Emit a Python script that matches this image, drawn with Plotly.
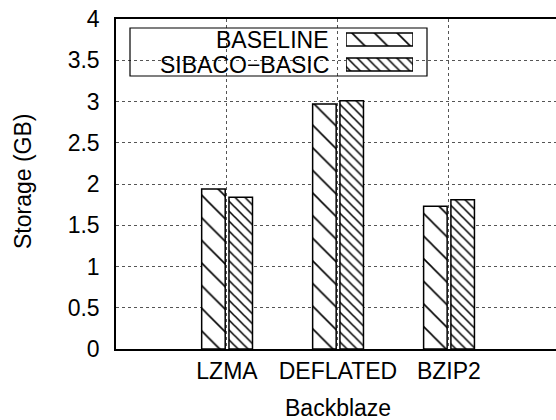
import plotly.graph_objects as go

categories = ["LZMA", "DEFLATED", "BZIP2"]
baseline = [1.94, 2.97, 1.73]
sibaco = [1.84, 3.01, 1.81]
series_names = ["BASELINE", "SIBACO\u2212BASIC"]
y_ticks = [0, 0.5, 1, 1.5, 2, 2.5, 3, 3.5, 4]
y_tick_text = ["0", "0.5", "1", "1.5", "2", "2.5", "3", "3.5", "4"]

FONT = "Liberation Sans, Arial, Helvetica, sans-serif"
W, H = 556, 420
L, R, T, B = 116, 0, 19, 71
PW, PH = W - L - R, H - T - B


def px(x):
    return (x - L) / PW


def py(y):
    return (H - B - y) / PH


pat_base = dict(shape="\\", size=16, solidity=0.1, fgcolor="black", bgcolor="white", fgopacity=1)
pat_sib = dict(shape="\\", size=7, solidity=0.22, fgcolor="black", bgcolor="white", fgopacity=1)
line_style = dict(color="black", width=1.5)

fig = go.Figure()
fig.add_trace(go.Bar(x=categories, y=baseline, name=series_names[0], width=0.212, offset=-0.228,
                     marker=dict(color="white", pattern=pat_base, line=line_style), showlegend=False))
fig.add_trace(go.Bar(x=categories, y=sibaco, name=series_names[1], width=0.212, offset=0.018,
                     marker=dict(color="white", pattern=pat_sib, line=line_style), showlegend=False))

# legend key swatches on a small inset axis
fig.add_trace(go.Bar(x=[1], y=[series_names[0]], orientation="h", width=0.52, xaxis="x2", yaxis="y2",
                     marker=dict(color="white", pattern=pat_base, line=line_style), showlegend=False))
fig.add_trace(go.Bar(x=[1], y=[series_names[1]], orientation="h", width=0.52, xaxis="x2", yaxis="y2",
                     marker=dict(color="white", pattern=pat_sib, line=line_style), showlegend=False))

grid = dict(showgrid=True, gridcolor="#555", griddash="dot", gridwidth=1)

bx0, bx1, by0, by1 = px(130), px(427), py(76), py(28)
box = dict(type="rect", xref="paper", yref="paper", x0=bx0, x1=bx1, y0=by0, y1=by1)

fig.update_layout(
    width=W, height=H,
    margin=dict(l=L, r=R, t=T, b=B),
    paper_bgcolor="white", plot_bgcolor="white",
    font=dict(family=FONT, size=23, color="black"),
    barmode="overlay",
    xaxis=dict(type="category", range=[-1, 2.965], showline=True, linecolor="black", linewidth=1.5,
               mirror=True, ticks="", ticklabelstandoff=1, zeroline=False, **grid),
    yaxis=dict(range=[0, 4], tickvals=y_ticks, ticktext=y_tick_text, showline=True, linecolor="black",
               linewidth=1.5, mirror=False, ticks="", ticklabelstandoff=10, zeroline=False, **grid),
    xaxis2=dict(domain=[px(346), px(413)], anchor="y2", range=[0, 1], visible=False),
    yaxis2=dict(domain=[py(77), py(27)], anchor="x2", type="category",
                categoryorder="array", categoryarray=[series_names[1], series_names[0]], visible=False),
    shapes=[
        dict(**box, fillcolor="white", line=dict(width=0), layer="between"),
        dict(**box, fillcolor="rgba(0,0,0,0)", line=dict(color="black", width=1.2), layer="above"),
    ],
    annotations=[
        dict(text=series_names[0], xref="paper", yref="paper", x=px(331), y=py(39.5),
             xanchor="right", yanchor="middle", showarrow=False),
        dict(text=series_names[1], xref="paper", yref="paper", x=px(331), y=py(64.5),
             xanchor="right", yanchor="middle", showarrow=False),
        dict(text="Storage (GB)", xref="paper", yref="paper", x=px(23), y=py(181), textangle=-90,
             xanchor="center", yanchor="middle", showarrow=False),
        dict(text="Backblaze", xref="paper", yref="paper", x=px(337.5), y=py(408),
             xanchor="center", yanchor="middle", showarrow=False),
    ],
)

fig.write_html("out.html")
